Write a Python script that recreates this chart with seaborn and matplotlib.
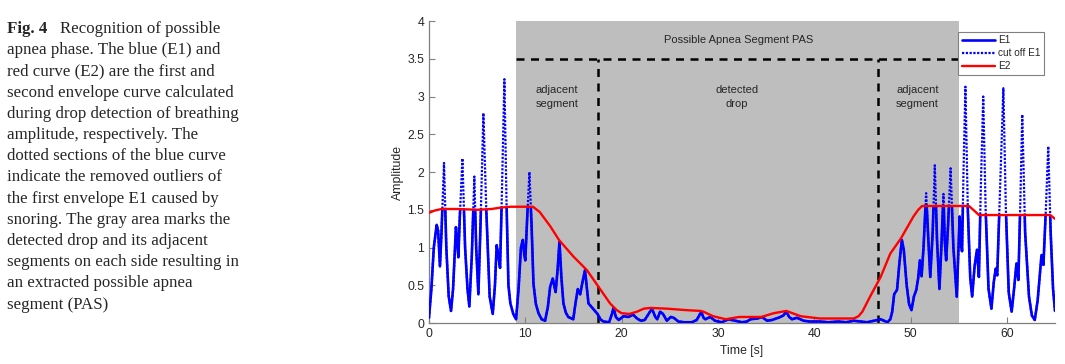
import numpy as np
import pandas as pd
import matplotlib
matplotlib.use("Agg")
import matplotlib.pyplot as plt
from matplotlib.patches import Polygon
from matplotlib.lines import Line2D
import seaborn as sns

# first envelope E1 (time [s], amplitude)
e1_time = [
    0.0, 0.25, 0.5, 0.8, 0.95, 1.14, 1.3, 1.56, 1.8, 2.05, 2.29, 2.5, 2.8, 2.95,
    3.05, 3.2, 3.47, 3.75, 4.0, 4.19, 4.45, 4.71, 4.9, 5.13, 5.35, 5.65, 5.95,
    6.3, 6.62, 6.85, 7.03, 7.2, 7.38, 7.55, 7.83, 8.05, 8.25, 8.45, 8.75, 9.04,
    9.3, 9.55, 9.74, 9.9, 10.0, 10.2, 10.43, 10.65, 10.85, 11.1, 11.37, 11.7,
    12.06, 12.35, 12.58, 12.85, 13.15, 13.35, 13.55, 13.75, 13.96, 14.2, 14.46,
    14.98, 15.2, 15.45, 15.7, 15.95, 16.2, 16.4, 16.56, 17.1, 17.5, 17.8, 18.1,
    18.7, 19.0, 19.16, 19.4, 19.7, 20.2, 20.7, 21.2, 21.6, 22.0, 22.4, 22.8,
    23.15, 23.5, 23.7, 24.0, 24.3, 24.7, 25.1, 25.4, 25.9, 26.5, 27.3, 27.8,
    28.28, 28.5, 28.7, 29.2, 29.7, 30.4, 31.1, 31.8, 32.5, 33.0, 33.4, 34.1,
    34.6, 35.1, 35.6, 36.3, 36.8, 37.1, 37.4, 37.7, 38.2, 38.9, 39.5, 40.6,
    41.5, 42.5, 43.3, 44.1, 44.8, 45.5, 46.2, 46.9, 47.6, 47.9, 48.1, 48.3,
    48.6, 48.85, 49.1, 49.3, 49.6, 49.85, 50.1, 50.35, 50.6, 50.8, 50.97,
    51.15, 51.35, 51.62, 51.85, 52.05, 52.3, 52.52, 52.75, 53.0, 53.2, 53.42,
    53.55, 53.7, 53.9, 54.16, 54.45, 54.8, 54.95, 55.1, 55.25, 55.35, 55.5,
    55.7, 55.95, 56.2, 56.4, 56.65, 56.9, 57.1, 57.3, 57.55, 57.8, 58.1, 58.4,
    58.65, 58.85, 59.0, 59.3, 59.64, 59.9, 60.2, 60.5, 60.75, 61.0, 61.2, 61.4,
    61.6, 61.9, 62.3, 62.6, 62.9, 63.2, 63.6, 63.8, 64.05, 64.3, 64.55, 64.8,
    65.0,
]
e1_amp = [
    0.07, 0.45, 1.0, 1.30, 1.22, 0.75, 1.2, 2.12, 1.0, 0.35, 0.16, 0.45, 1.27, 1.05,
    0.87, 1.4, 2.18, 1.0, 0.45, 0.22, 0.9, 1.94, 1.0, 0.38, 1.3, 2.78, 1.5,
    0.35, 0.12, 0.5, 1.03, 0.9, 0.73, 1.6, 3.23, 1.6, 0.5, 0.26, 0.12, 0.05,
    0.45, 1.0, 1.10, 0.9, 0.83, 1.4, 2.0, 1.3, 0.52, 0.25, 0.13, 0.05,
    0.03, 0.22, 0.48, 0.59, 0.41, 0.7, 1.08, 0.6, 0.26, 0.14, 0.08,
    0.05, 0.25, 0.45, 0.38, 0.55, 0.70, 0.45, 0.26, 0.18, 0.12, 0.05, 0.02,
    0.01, 0.12, 0.20, 0.08, 0.04, 0.09, 0.08, 0.11, 0.06, 0.03, 0.04, 0.12,
    0.19, 0.08, 0.05, 0.15, 0.12, 0.03, 0.08, 0.07, 0.02, 0.01, 0.01, 0.04,
    0.15, 0.07, 0.05, 0.08, 0.03, 0.01, 0.05, 0.03, 0.01, 0.02, 0.05, 0.06,
    0.08, 0.03, 0.04, 0.07, 0.10, 0.15, 0.08, 0.05, 0.07, 0.03, 0.02, 0.02,
    0.01, 0.02, 0.01, 0.03, 0.02, 0.01, 0.03, 0.05, 0.01, 0.05, 0.15, 0.38,
    0.44, 0.8, 1.10, 0.97, 0.5, 0.25, 0.17, 0.35, 0.44, 0.6, 0.83,
    0.62, 1.0, 1.72, 1.1, 0.61, 1.2, 2.09, 1.1, 0.45, 1.0, 1.71,
    1.1, 0.83, 1.3, 2.05, 1.0, 0.35, 0.9, 1.41, 1.05, 0.95, 2.0,
    3.13, 1.5, 0.6, 0.35, 0.75, 0.97, 0.61, 1.8, 3.0, 1.5, 0.45, 0.19,
    0.55, 0.72, 0.63, 1.8, 3.11, 1.5, 0.4, 0.15, 0.45, 0.79, 0.57, 1.6,
    2.76, 1.2, 0.35, 0.1, 0.04, 0.3, 0.90, 0.77, 1.5, 2.34, 1.2, 0.45,
    0.16,
]

# second envelope E2
e2_time = [
    0.0, 0.6, 1.3, 3.0, 5.0, 6.5, 7.5, 8.5, 10.8, 11.5, 12.6, 13.5, 15.0, 16.4,
    17.6, 18.8, 19.5, 20.0, 20.8, 21.6, 22.3, 23.0, 24.7, 26.8, 28.2, 28.5,
    29.5, 30.8, 32.2, 34.5, 35.8, 37.1, 38.6, 40.6, 44.1, 44.6, 45.0, 45.8,
    46.9, 47.9, 49.0, 50.3, 50.8, 51.2, 56.06, 56.6, 57.1, 64.5, 65.0,
]
e2_amp = [
    1.46, 1.49, 1.51, 1.51, 1.50, 1.51, 1.53, 1.54, 1.54, 1.47, 1.28, 1.10, 0.88, 0.70,
    0.48, 0.26, 0.17, 0.13, 0.12, 0.15, 0.19, 0.20, 0.19, 0.17, 0.16, 0.15,
    0.09, 0.05, 0.08, 0.08, 0.13, 0.16, 0.09, 0.06, 0.06, 0.09, 0.15, 0.35,
    0.61, 0.92, 1.12, 1.41, 1.50, 1.55, 1.55, 1.49, 1.43, 1.43, 1.38,
]

# segment boundaries
pas_start, pas_end = 9.0, 55.0
drop_start, drop_end = 17.6, 46.6
pas_level = 3.5

x_ticks = [0, 10, 20, 30, 40, 50, 60]
y_ticks = [0, 0.5, 1, 1.5, 2, 2.5, 3, 3.5, 4]
y_labels = ["0", "0.5", "1", "1.5", "2", "2.5", "3", "3.5", "4"]

caption_lines = [
    "apnea phase. The blue (E1) and",
    "red curve (E2) are the first and",
    "second envelope curve calculated",
    "during drop detection of breathing",
    "amplitude, respectively. The",
    "dotted sections of the blue curve",
    "indicate the removed outliers of",
    "the first envelope E1 caused by",
    "snoring. The gray area marks the",
    "detected drop and its adjacent",
    "segments on each side resulting in",
    "an extracted possible apnea",
    "segment (PAS)",
]

sns.set_theme(style="white")
plt.rcParams["font.family"] = ["Liberation Sans", "DejaVu Sans"]

e1 = pd.DataFrame({"t": e1_time, "a": e1_amp})
e2 = pd.DataFrame({"t": e2_time, "a": e2_amp})

fig = plt.figure(figsize=(10.65, 3.64), dpi=100)
ax = fig.add_axes([0.4028, 0.1126, 0.5878, 0.8297])

gray = "#bebebe"
ax.axvspan(pas_start, pas_end, color=gray, lw=0, zorder=0)

dash = (0, (3.2, 2.6))
ax.plot([pas_start, pas_end], [pas_level, pas_level], color="black", lw=1.8, linestyle=dash, zorder=1)
for xv in (drop_start, drop_end):
    ax.plot([xv, xv], [0, pas_level], color="black", lw=1.8, linestyle=dash, zorder=1)

# cut off part of E1 (full curve, dotted)
sns.lineplot(data=e1, x="t", y="a", sort=False, estimator=None, ax=ax,
             color="#0000ff", lw=1.6, linestyle=(0, (1, 0.7)), zorder=2)
# E1 kept below the second envelope (solid)
sns.lineplot(data=e1, x="t", y="a", sort=False, estimator=None, ax=ax,
             color="#0000ff", lw=1.9, zorder=3)
clip_verts = list(zip(e2_time, e2_amp)) + [(e2_time[-1], -1), (e2_time[0], -1)]
clip_poly = Polygon(clip_verts, closed=True, transform=ax.transData)
ax.lines[-1].set_clip_path(clip_poly)

sns.lineplot(data=e2, x="t", y="a", sort=False, estimator=None, ax=ax,
             color="#ff0000", lw=1.7, zorder=4)

txt_color = "#262626"
ax.text(32.1, 3.75, "Possible Apnea Segment PAS", ha="center", va="center", fontsize=8, color=txt_color)
for xc, label in [(13.3, "adjacent\nsegment"), (32.0, "detected\ndrop"), (50.7, "adjacent\nsegment")]:
    ax.text(xc, 2.99, label, ha="center", va="center", fontsize=8, color=txt_color, linespacing=1.5)

ax.set_xlim(0, 65)
ax.set_ylim(0, 4)
ax.set_xticks(x_ticks)
ax.set_yticks(y_ticks)
ax.set_yticklabels(y_labels)
ax.set_xlabel("Time [s]", fontsize=8.8, color=txt_color, labelpad=4)
ax.set_ylabel("Amplitude", fontsize=8.8, color=txt_color, labelpad=2)
ax.tick_params(direction="in", length=4, width=0.8, color="#808080",
               labelsize=8.8, labelcolor=txt_color, left=True, bottom=True)
sns.despine(ax=ax)
for side in ("left", "bottom"):
    ax.spines[side].set_color("#808080")
    ax.spines[side].set_linewidth(0.9)

handles = [
    Line2D([], [], color="#0000ff", lw=1.9),
    Line2D([], [], color="#0000ff", lw=1.6, linestyle=(0, (1, 0.7))),
    Line2D([], [], color="#ff0000", lw=1.7),
]
leg = ax.legend(handles, ["E1", "cut off E1", "E2"], loc="upper right",
                bbox_to_anchor=(0.982, 0.964), borderaxespad=0, fontsize=7.2,
                handlelength=3.3, handletextpad=0.3, labelspacing=0.3,
                borderpad=0.35, fancybox=False, framealpha=1)
leg.get_frame().set_edgecolor("#808080")
leg.get_frame().set_linewidth(0.8)

# caption on the left
serif = ["Liberation Serif", "DejaVu Serif"]
fs = 12.2
fig.text(7 / 1065, 1 - 33 / 364, "Fig. 4", fontsize=fs, fontweight="bold", family=serif, va="baseline")
fig.text(60 / 1065, 1 - 33 / 364, "Recognition of possible", fontsize=fs, family=serif, va="baseline")
for i, line in enumerate(caption_lines, start=1):
    fig.text(7 / 1065, 1 - (33 + 21.2 * i) / 364, line, fontsize=fs, family=serif, va="baseline")

fig.savefig("out.png", dpi=100)
